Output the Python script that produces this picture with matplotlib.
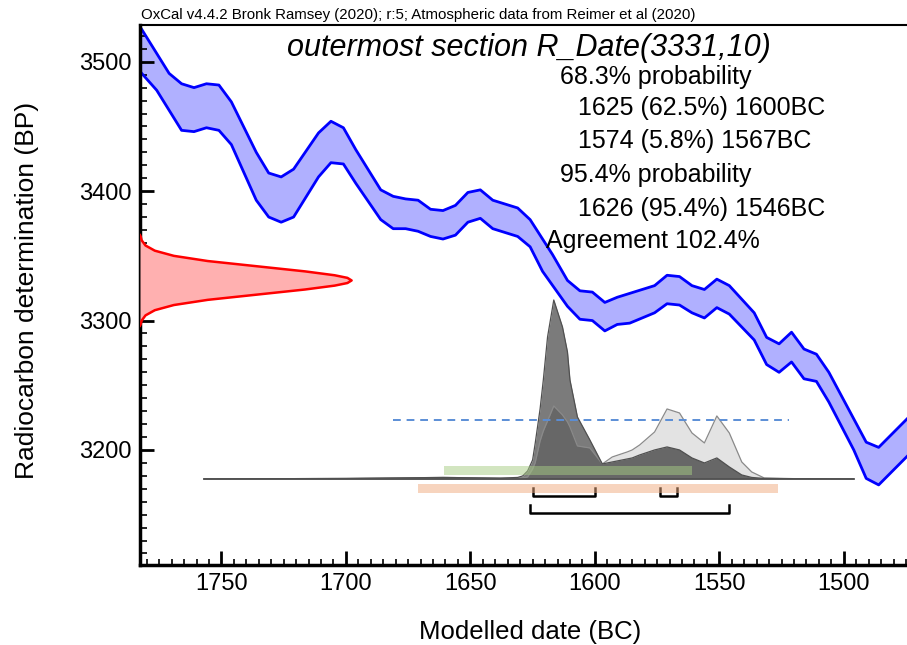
# %% import modules
import numpy as np
import matplotlib
matplotlib.use("Agg")
import matplotlib.pyplot as plt
from matplotlib.ticker import MultipleLocator

plt.rcParams['font.family'] = ['Liberation Sans', 'DejaVu Sans']

# %% Data
# calibration curve band (years BC, radiocarbon BP)
upper_years = [1782, 1771, 1766, 1761, 1756, 1751, 1746, 1736, 1731, 1726, 1721,
               1711, 1706, 1701, 1696, 1686, 1681, 1676, 1671, 1666, 1661, 1656,
               1651, 1646, 1641, 1631, 1626, 1617, 1611, 1606, 1601, 1596, 1591,
               1586, 1576, 1571, 1566, 1561, 1556, 1551, 1546, 1536, 1531, 1526,
               1521, 1516, 1511, 1506, 1496, 1491, 1486, 1471]
upper_bp = [3525, 3491, 3483, 3480, 3483, 3482, 3469, 3430, 3414, 3411, 3417,
            3445, 3454, 3449, 3432, 3401, 3396, 3394, 3393, 3386, 3385, 3389,
            3399, 3401, 3393, 3387, 3378, 3351, 3331, 3323, 3322, 3314, 3318,
            3321, 3327, 3335, 3334, 3327, 3324, 3332, 3327, 3306, 3287, 3282,
            3291, 3278, 3274, 3260, 3224, 3206, 3202, 3231]
lower_years = [1782, 1776, 1766, 1761, 1756, 1751, 1746, 1736, 1731, 1726, 1721,
               1711, 1706, 1701, 1696, 1686, 1681, 1676, 1671, 1666, 1661, 1656,
               1651, 1646, 1641, 1631, 1626, 1621, 1611, 1606, 1601, 1596, 1591,
               1586, 1576, 1571, 1566, 1561, 1556, 1551, 1546, 1536, 1531, 1526,
               1521, 1516, 1511, 1506, 1496, 1491, 1486, 1471]
lower_bp = [3491, 3478, 3447, 3446, 3449, 3447, 3436, 3393, 3380, 3376, 3380,
            3411, 3422, 3421, 3406, 3378, 3371, 3371, 3369, 3365, 3363, 3366,
            3376, 3379, 3371, 3365, 3357, 3338, 3311, 3301, 3300, 3292, 3297,
            3298, 3306, 3313, 3312, 3306, 3302, 3310, 3305, 3285, 3266, 3260,
            3268, 3255, 3253, 3237, 3200, 3178, 3173, 3202]

# radiocarbon measurement R_Date(3331,10), relative probability
rdate_bp = [3366, 3365, 3362, 3358, 3354, 3350, 3346, 3342, 3338, 3335, 3333, 3331,
            3329, 3327, 3324, 3320, 3316, 3312, 3308, 3304, 3300, 3297, 3296]
rdate_prob = [0, 0.003, 0.008, 0.026, 0.07, 0.16, 0.32, 0.55, 0.78, 0.92, 0.98, 1.0,
              0.98, 0.92, 0.78, 0.55, 0.32, 0.16, 0.07, 0.026, 0.008, 0.003, 0]

# calibrated distributions (arbitrary units): unmodelled likelihood and posterior
dist_years = [1757, 1700, 1661, 1638, 1631, 1629, 1627, 1625, 1624, 1622, 1620.7,
              1619, 1616.5, 1613, 1611, 1610, 1607, 1602, 1597, 1593, 1587, 1585,
              1582, 1576, 1571, 1566, 1561, 1556, 1551, 1546, 1541, 1537, 1532,
              1520, 1496]
posterior = [0, 0.5, 1.5, 0.8, 1.5, 3, 8, 19, 35, 70, 99, 142, 179, 152, 127, 99,
             62, 39, 15, 17, 20, 21, 24, 29, 32, 29, 21, 16, 21, 12, 4, 1.5, 0.5,
             0.2, 0]
likelihood = [0, 0.5, 1.5, 0.8, 0.8, 1, 2, 10, 16, 38, 48, 58, 73, 64, 57, 52,
              33, 31, 15, 22, 27, 29, 34, 47, 70, 66, 46, 36, 63, 46, 17, 7, 1,
              0.3, 0]

# ranges
range68 = [(1625, 1600), (1574, 1567)]
range95 = [(1626, 1546)]
green_range = (1660.5, 1560.8)
orange_range = (1671, 1526.5)
dashed_range = (1681, 1522)
dashed_bp = 3223.2

info_lines = ["68.3% probability", "1625 (62.5%) 1600BC", "1574 (5.8%) 1567BC",
              "95.4% probability", "1626 (95.4%) 1546BC", "Agreement 102.4%"]

# %% Figure
fig = plt.figure(figsize=(9.07, 6.45), dpi=100)
ax = fig.add_axes([140/907, 80/645, 780/907, 540/645])
ax.set_xlim(1782.7, 1469.4)
ax.set_ylim(3111.1, 3528.4)

# calibration curve
band_x = np.concatenate([upper_years, lower_years[::-1]])
band_y = np.concatenate([upper_bp, lower_bp[::-1]])
ax.fill(band_x, band_y, color='#b0b0ff', lw=0, zorder=1)
ax.plot(upper_years, upper_bp, color='#0000ff', lw=2.0, zorder=2)
ax.plot(lower_years, lower_bp, color='#0000ff', lw=2.0, zorder=2)

# measurement on the y axis
x0 = ax.get_xlim()[0]
rx = x0 - np.array(rdate_prob) * 85
ax.fill_betweenx(rdate_bp, x0, rx, color='#ffb0b0', lw=0, zorder=3)
ax.plot(rx, rdate_bp, color='#ff0000', lw=1.8, zorder=4)

# calibrated distributions
base = 3177.6
scale = 138.3 / 179
post = base + np.array(posterior) * scale
lik = base + np.array(likelihood) * scale
both = base + np.minimum(posterior, likelihood) * scale
ax.fill_between(dist_years, base, lik, color='#e3e3e3', lw=0, zorder=5)
ax.fill_between(dist_years, base, post, color='#7b7b7b', lw=0, zorder=5)
ax.fill_between(dist_years, base, both, color='#676767', lw=0, zorder=5)
ax.plot(dist_years, lik, color='#8a8a8a', lw=0.9, zorder=6)
ax.plot(dist_years, post, color='#505050', lw=0.9, zorder=6)
ax.plot([dist_years[0], dist_years[-1]], [base, base], color='#505050', lw=1.2, zorder=6)

# bars
ax.fill_between(green_range, 3180.7, 3187.9, color='#a6cc83', alpha=0.5, lw=0, zorder=7)
for a, b in range68:
    ax.plot([a, a, b, b], [3170.4, 3164.5, 3164.5, 3170.4], color='black', lw=1.8, zorder=7)
for a, b in range95:
    ax.plot([a, a, b, b], [3157.5, 3151.1, 3151.1, 3157.5], color='black', lw=1.8, zorder=7)
ax.fill_between(orange_range, 3166.6, 3173.5, color='#f1ab7f', alpha=0.5, lw=0, zorder=8)
ax.plot(dashed_range, [dashed_bp, dashed_bp], color='#5b8ed6', lw=1.4,
        dashes=(4, 3), zorder=9)

# axes styling
ax.spines['right'].set_visible(False)
ax.spines['left'].set_linewidth(2.5)
ax.spines['bottom'].set_linewidth(2.5)
ax.spines['top'].set_linewidth(1.5)
ax.xaxis.set_major_locator(MultipleLocator(50))
ax.xaxis.set_minor_locator(MultipleLocator(5))
ax.yaxis.set_major_locator(MultipleLocator(100))
ax.yaxis.set_minor_locator(MultipleLocator(10))
ax.tick_params(which='both', direction='in', top=False, right=False, labelsize=17)
ax.tick_params(which='major', length=10, width=2, pad=6)
ax.tick_params(which='minor', length=5, width=1.2)
ax.tick_params(axis='x', which='minor', length=4)

# text
fig.text(27/907, 1 - 290/645, 'Radiocarbon determination (BP)', rotation=90,
         fontsize=19, ha='center', va='center')
fig.text(530/907, 1 - 632/645, 'Modelled date (BC)', fontsize=18.5, ha='center', va='center')
fig.text(141/907, 1 - 15/645,
         'OxCal v4.4.2 Bronk Ramsey (2020); r:5; Atmospheric data from Reimer et al (2020)',
         fontsize=10.8, ha='left', va='center')
fig.text(529/907, 1 - 48/645, 'outermost section R_Date(3331,10)', fontsize=22,
         style='italic', ha='center', va='center')
line_x = [560, 578, 578, 560, 578, 546]
line_y = [77, 108, 141, 175, 209, 241]
for s, lx, ly in zip(info_lines, line_x, line_y):
    fig.text(lx/907, 1 - ly/645, s, fontsize=18, ha='left', va='center')

fig.savefig('out.png', dpi=100)
